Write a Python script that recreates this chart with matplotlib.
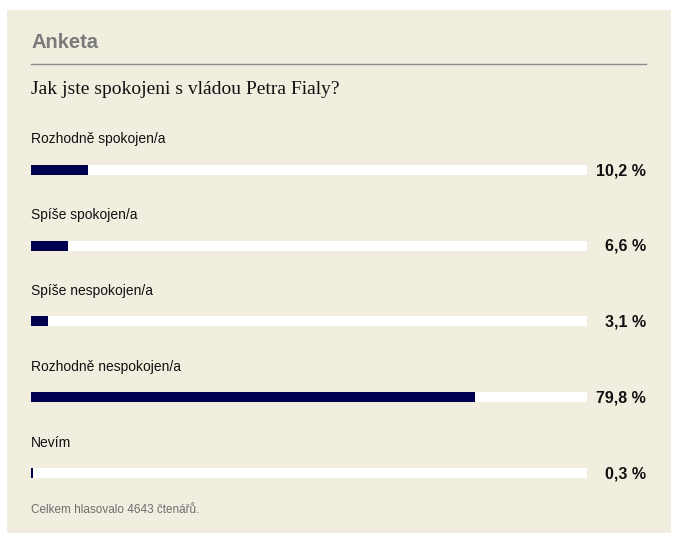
import matplotlib
matplotlib.use('Agg')
import matplotlib.pyplot as plt
from matplotlib.patches import Rectangle
import matplotlib.transforms as mtransforms

# --- Data ---
answers = ['Rozhodně spokojen/a', 'Spíše spokojen/a', 'Spíše nespokojen/a',
           'Rozhodně nespokojen/a', 'Nevím']
shares = [10.2, 6.6, 3.1, 79.8, 0.3]
value_labels = ['10,2 %', '6,6 %', '3,1 %', '79,8 %', '0,3 %']
title = 'Anketa'
question = 'Jak jste spokojeni s vládou Petra Fialy?'
footer = 'Celkem hlasovalo 4643 čtenářů.'

# --- Colours ---
PANEL_BG = '#f1eedf'
BAR_FILL = '#000050'
TRACK = '#ffffff'
GREY = '#7a7a7a'

W, H = 681, 547
fig = plt.figure(figsize=(W / 100, H / 100), dpi=100)
fig.patch.set_facecolor('white')

# panel background
fig.patches.append(Rectangle((7 / W, 1 - 533 / H), 664 / W, 523 / H,
                             transform=fig.transFigure, facecolor=PANEL_BG,
                             edgecolor='none', zorder=-10))

sans = ['Liberation Sans', 'DejaVu Sans']

fig.text(31 / W, 1 - 43 / H, title, fontsize=14.5, fontweight='bold',
         color=GREY, va='center', ha='left', family=sans)
fig.add_artist(plt.Line2D([31 / W, 646 / W], [1 - 64 / H, 1 - 64 / H],
                          color='#8a8a8a', linewidth=1.0))
fig.text(31 / W, 1 - 89 / H, question, fontsize=14, color='#111111',
         va='center', ha='left', family=['Liberation Serif', 'DejaVu Serif'])
fig.text(31 / W, 1 - 510 / H, footer, fontsize=8.5, color='#6e6e6e',
         va='center', ha='left', family=sans)

# --- Bars ---
top, bottom = 131, 510
ax = fig.add_axes([31 / W, 1 - bottom / H, 556 / W, (bottom - top) / H],
                  zorder=5)
ax.set_xlim(0, 100)
ax.set_ylim(len(answers) - 0.5 - 0.012, -0.5 - 0.012)
ax.axis('off')

pos = list(range(len(answers)))
bar_h = 10 / ((bottom - top) / len(answers))
ax.barh(pos, [100] * len(pos), height=bar_h, color=TRACK, zorder=1)
ax.barh(pos, shares, height=bar_h, color=BAR_FILL, zorder=2)

blend = mtransforms.blended_transform_factory(ax.transAxes, ax.transData)
for i, (name, lab) in enumerate(zip(answers, value_labels)):
    ax.text(0, i - 0.40, name, transform=blend, fontsize=10, color='#111111',
            va='center', ha='left', family=sans)
    ax.text(615 / 556, i + 0.01, lab, transform=blend, fontsize=11.5,
            fontweight='bold', color='#111111', va='center', ha='right',
            family=sans)

fig.savefig('out.png', dpi=100, facecolor='white')
